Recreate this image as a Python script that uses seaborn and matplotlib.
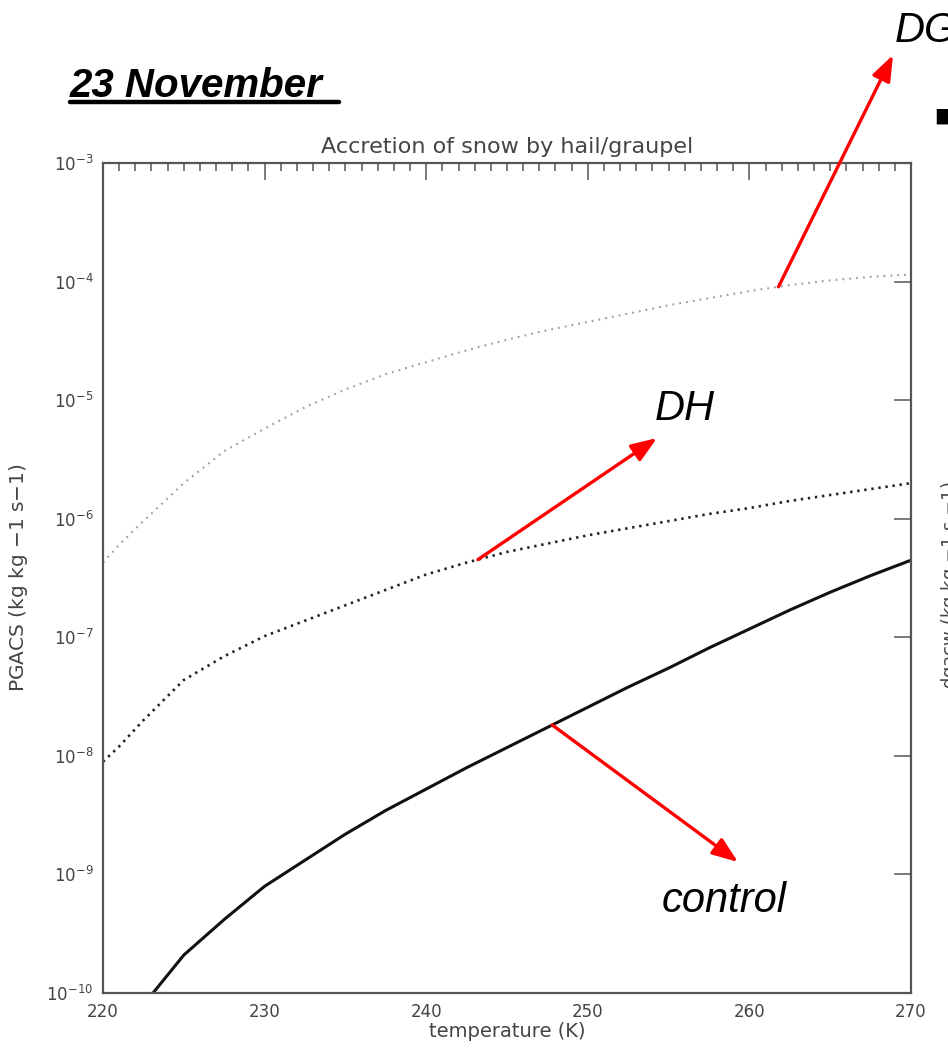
import numpy as np
import pandas as pd
import seaborn as sns
import matplotlib
matplotlib.use("Agg")
import matplotlib.pyplot as plt
from matplotlib.lines import Line2D
from matplotlib.ticker import MultipleLocator, NullLocator, LogLocator

# Temperature grid (K)
temperature = [220, 221, 222.5, 225, 227.5, 230, 232.5, 235, 237.5, 240, 242.5, 245,
               247.5, 250, 252.5, 255, 257.5, 260, 262.5, 265, 267.5, 270]

# log10 of PGACS (kg kg-1 s-1) for each experiment
control_log10 = [-10.6, -10.4, -10.1, -9.68, -9.38, -9.10, -8.88, -8.66, -8.46, -8.28,
                 -8.10, -7.93, -7.76, -7.59, -7.42, -7.26, -7.09, -6.93, -6.77, -6.62,
                 -6.48, -6.35]
dh_log10 = [-8.05, -7.92, -7.70, -7.36, -7.16, -6.99, -6.86, -6.73, -6.60, -6.47,
            -6.37, -6.28, -6.21, -6.14, -6.08, -6.02, -5.96, -5.91, -5.85, -5.80,
            -5.75, -5.70]
dg_log10 = [-6.37, -6.22, -6.02, -5.70, -5.43, -5.24, -5.06, -4.91, -4.78, -4.68,
            -4.58, -4.49, -4.41, -4.34, -4.27, -4.20, -4.14, -4.08, -4.03, -3.99,
            -3.96, -3.94]

x_ticks = [220, 230, 240, 250, 260, 270]

W, H = 948, 1051
sns.set_style("white")
plt.rcParams["font.family"] = ["DejaVu Sans"]
fig = plt.figure(figsize=(W / 100, H / 100), dpi=100)
ax = fig.add_axes([103 / W, 1 - 993 / H, (911 - 103) / W, (993 - 163) / H])

df = pd.DataFrame({
    "temperature": temperature,
    "control": 10.0 ** np.array(control_log10),
    "DH": 10.0 ** np.array(dh_log10),
    "DG": 10.0 ** np.array(dg_log10),
})

sns.lineplot(data=df, x="temperature", y="DG", ax=ax, color="#a0a0a0",
             linewidth=1.5, linestyle=(0, (0.9, 2.4)))
sns.lineplot(data=df, x="temperature", y="DH", ax=ax, color="#222222",
             linewidth=1.9, linestyle=(0, (0.9, 1.8)))
sns.lineplot(data=df, x="temperature", y="control", ax=ax, color="#111111",
             linewidth=2.2)

ax.set_yscale("log")
ax.set_xlim(220, 270)
ax.set_ylim(1e-10, 1e-3)
ax.set_xticks(x_ticks)
ax.xaxis.set_minor_locator(MultipleLocator(1))
ax.yaxis.set_major_locator(LogLocator(base=10, numticks=20))
ax.yaxis.set_minor_locator(NullLocator())

axis_grey = "#555555"
text_grey = "#444444"
for s in ax.spines.values():
    s.set_color(axis_grey)
    s.set_linewidth(1.6)
ax.tick_params(which="both", direction="in", top=True, right=True,
               color=axis_grey, width=1.1, labelcolor=text_grey, labelsize=12)
ax.tick_params(which="major", length=12, pad=7)
ax.tick_params(which="minor", length=6)

ax.set_title("Accretion of snow by hail/graupel", color=text_grey, fontsize=16, pad=7)
ax.set_xlabel("temperature (K)", color=text_grey, fontsize=14, labelpad=1)
ax.set_ylabel("PGACS (kg kg $-$1 s$-$1)", color=text_grey, fontsize=14.5, labelpad=12)


def fx(px):
    return px / W


def fy(py):
    return 1 - py / H


# Date heading with underline
fig.text(fx(70), fy(97), "23 November", fontsize=29, fontweight="bold", style="italic",
         family="Liberation Sans", color="black", va="baseline", ha="left")
fig.add_artist(Line2D([fx(70), fx(339)], [fy(102), fy(102)], color="black", linewidth=3.2))

# Experiment labels
label_kw = dict(fontsize=30, style="italic", family="Liberation Sans", color="black",
                va="baseline", ha="left")
fig.text(fx(895), fy(42), "DG", **label_kw)
fig.text(fx(655), fy(420), "DH", **label_kw)
fig.text(fx(662), fy(912), "control", **label_kw)

# Red arrows from each curve to its label
arrow_kw = dict(arrowstyle="-|>,head_length=1.2,head_width=0.45", color="#ff0000",
                lw=2.4, shrinkA=0, shrinkB=0, mutation_scale=13)


def curve_value(t, logs):
    return 10.0 ** np.interp(t, temperature, logs)


for t, logs, tip in [(261.8, dg_log10, (893, 55)),
                     (243.2, dh_log10, (657, 438)),
                     (247.8, control_log10, (738, 862))]:
    ax.annotate("", xy=(tip[0], H - tip[1]), xycoords="figure pixels",
                xytext=(t, curve_value(t, logs)), textcoords="data",
                arrowprops=arrow_kw, annotation_clip=False)

# Edge of the neighbouring panel
fig.text(fx(939), fy(585), "dgacw (kg kg $-$1 s $-$1)", rotation=90, fontsize=13,
         color=text_grey, ha="left", va="center")
fig.text(fx(933), fy(116), "\u25aa", fontsize=22, color="black", ha="left", va="center")

fig.savefig("out.png", dpi=100)
